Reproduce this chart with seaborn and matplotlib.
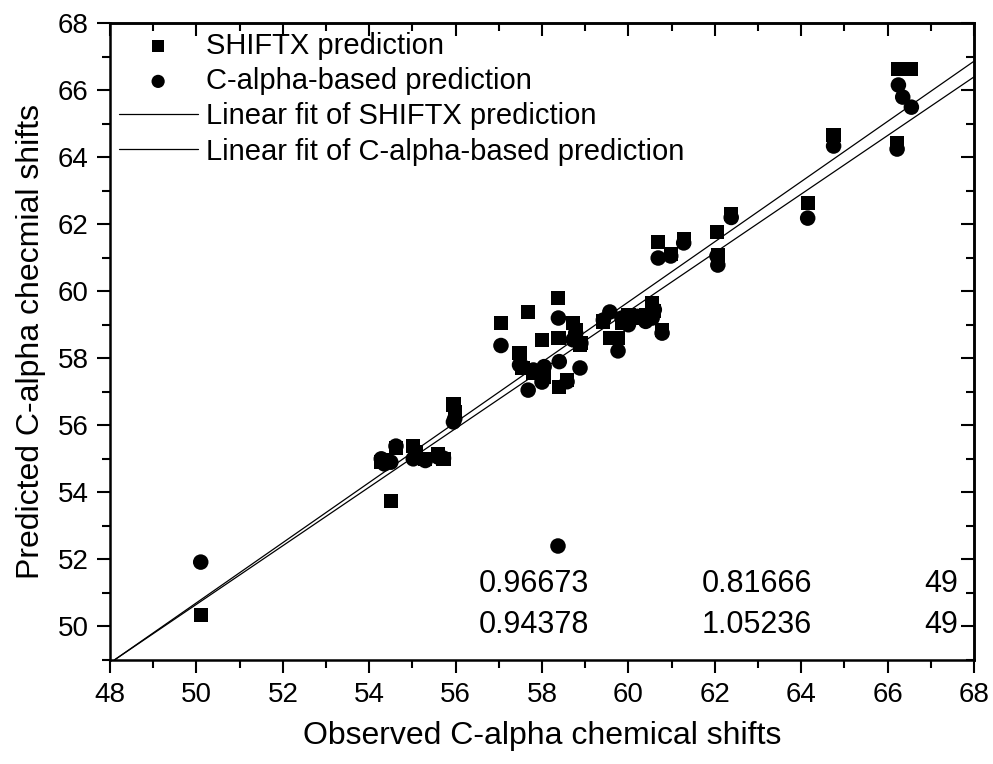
import numpy as np
import pandas as pd
import matplotlib
matplotlib.use("Agg")
import matplotlib.pyplot as plt
import seaborn as sns

# observed C-alpha shifts (one per residue) and the two predictions
observed = [50.10, 54.28, 54.35, 54.50, 54.62, 55.02, 55.08, 55.30, 55.60, 55.72,
            55.95, 55.98, 57.05, 57.48, 57.55, 57.68, 57.80, 58.00, 58.05, 58.37,
            58.38, 58.40, 58.58, 58.72, 58.78, 58.88, 58.90, 59.42, 59.57, 59.76,
            59.85, 60.00, 60.20, 60.40, 60.55, 60.60, 60.78, 60.69, 60.98, 61.28,
            62.05, 62.07, 62.38, 64.15, 64.75, 66.22, 66.25, 66.35, 66.55]
shiftx = [50.35, 54.90, 54.95, 53.75, 55.32, 55.38, 55.20, 55.00, 55.15, 55.00,
          56.62, 56.40, 59.05, 58.16, 57.70, 59.38, 57.55, 58.54, 57.45, 59.80,
          58.60, 57.14, 57.35, 59.05, 58.85, 58.40, 58.45, 59.10, 58.60, 58.60,
          59.05, 59.30, 59.20, 59.30, 59.65, 59.40, 58.85, 61.47, 61.10, 61.56,
          61.77, 61.08, 62.30, 62.63, 64.66, 64.42, 66.63, 66.63, 66.63]
calpha = [51.92, 55.00, 54.85, 54.90, 55.38, 55.00, 55.05, 54.95, 55.05, 55.02,
          56.10, 56.20, 58.38, 57.80, 57.75, 57.05, 57.65, 57.29, 57.75, 52.40,
          59.20, 57.90, 57.30, 58.55, 58.75, 57.71, 58.45, 59.14, 59.38, 58.22,
          59.20, 59.00, 59.25, 59.10, 59.20, 59.45, 58.75, 60.99, 61.05, 61.44,
          61.05, 60.78, 62.20, 62.18, 64.33, 64.24, 66.15, 65.79, 65.49]

# linear fits as drawn (slope, intercept)
fit_labels = ["Linear fit of SHIFTX prediction", "Linear fit of C-alpha-based prediction"]
fit_slope = [0.8975, 0.874]
fit_intercept = [5.83, 6.96]
fit_range = [48.1, 68.0]

# fit statistics printed in the plot (R, SD, N)
stat_r = ["0.96673", "0.94378"]
stat_sd = ["0.81666", "1.05236"]
stat_n = ["49", "49"]

df = pd.DataFrame({"observed": observed, "shiftx": shiftx, "calpha": calpha})

sns.set_style("ticks")
plt.rcParams["font.family"] = ["Liberation Sans", "DejaVu Sans"]
plt.rcParams.update({"text.color": "black", "axes.labelcolor": "black",
                     "xtick.color": "black", "ytick.color": "black",
                     "axes.edgecolor": "black"})

fig = plt.figure(figsize=(9.93, 7.64), dpi=100)
ax = fig.add_axes([110 / 993, 1 - 660 / 764, 864 / 993, 637 / 764])

sns.scatterplot(data=df, x="observed", y="shiftx", marker="s", s=105, color="black",
                edgecolor="none", linewidth=0, label="SHIFTX prediction", ax=ax, zorder=3)
sns.scatterplot(data=df, x="observed", y="calpha", marker="o", s=125, color="black",
                edgecolor="none", linewidth=0, label="C-alpha-based prediction", ax=ax, zorder=3)

xs = np.array(fit_range)
for lab, b, a in zip(fit_labels, fit_slope, fit_intercept):
    sns.lineplot(x=xs, y=a + b * xs, color="black", linewidth=0.9, label=lab, ax=ax, zorder=2)

ax.set_xlim(48, 68)
ax.set_ylim(49, 68)
ax.set_xticks(np.arange(48, 69, 2))
ax.set_xticks(np.arange(49, 68, 2), minor=True)
ax.set_yticks(np.arange(50, 69, 2))
ax.set_yticks(np.arange(49, 68, 2), minor=True)

for s in ax.spines.values():
    s.set_linewidth(1.8)
    s.set_visible(True)
    s.set_color("black")
ax.tick_params(which="major", length=9.5, width=1.5, direction="out", labelsize=20, pad=6)
ax.tick_params(which="minor", length=5.5, width=1.5, direction="out")

top = ax.secondary_xaxis("top")
top.set_xticks(np.arange(48, 69, 2))
top.set_xticks(np.arange(49, 68, 2), minor=True)
top.tick_params(which="major", direction="in", length=9.5, width=1.5, labeltop=False)
top.tick_params(which="minor", direction="in", length=5.5, width=1.5)
top.spines["top"].set_linewidth(1.8)

right = ax.secondary_yaxis("right")
right.set_yticks(np.arange(50, 69, 2))
right.set_yticks(np.arange(49, 68, 2), minor=True)
right.tick_params(which="major", direction="in", length=9.5, width=1.5, labelright=False)
right.tick_params(which="minor", direction="in", length=5.5, width=1.5)
right.spines["right"].set_linewidth(1.8)

ax.set_xlabel("Observed C-alpha chemical shifts", fontsize=23, labelpad=10)
ax.set_ylabel("Predicted C-alpha checmial shifts", fontsize=23, labelpad=8)

for i, yv in enumerate([51.03, 49.81]):
    ax.text(59.09, yv, stat_r[i], ha="right", va="baseline", fontsize=22)
    ax.text(64.25, yv, stat_sd[i], ha="right", va="baseline", fontsize=22)
    ax.text(67.63, yv, stat_n[i], ha="right", va="baseline", fontsize=22)

leg = ax.legend(loc="upper left", bbox_to_anchor=(0.0, 1.0), frameon=False, fontsize=21,
                handlelength=2.7, handletextpad=0.3, labelspacing=0.25, borderpad=0.1,
                borderaxespad=0.2, markerscale=0.85)

fig.savefig("out.png", dpi=100)
